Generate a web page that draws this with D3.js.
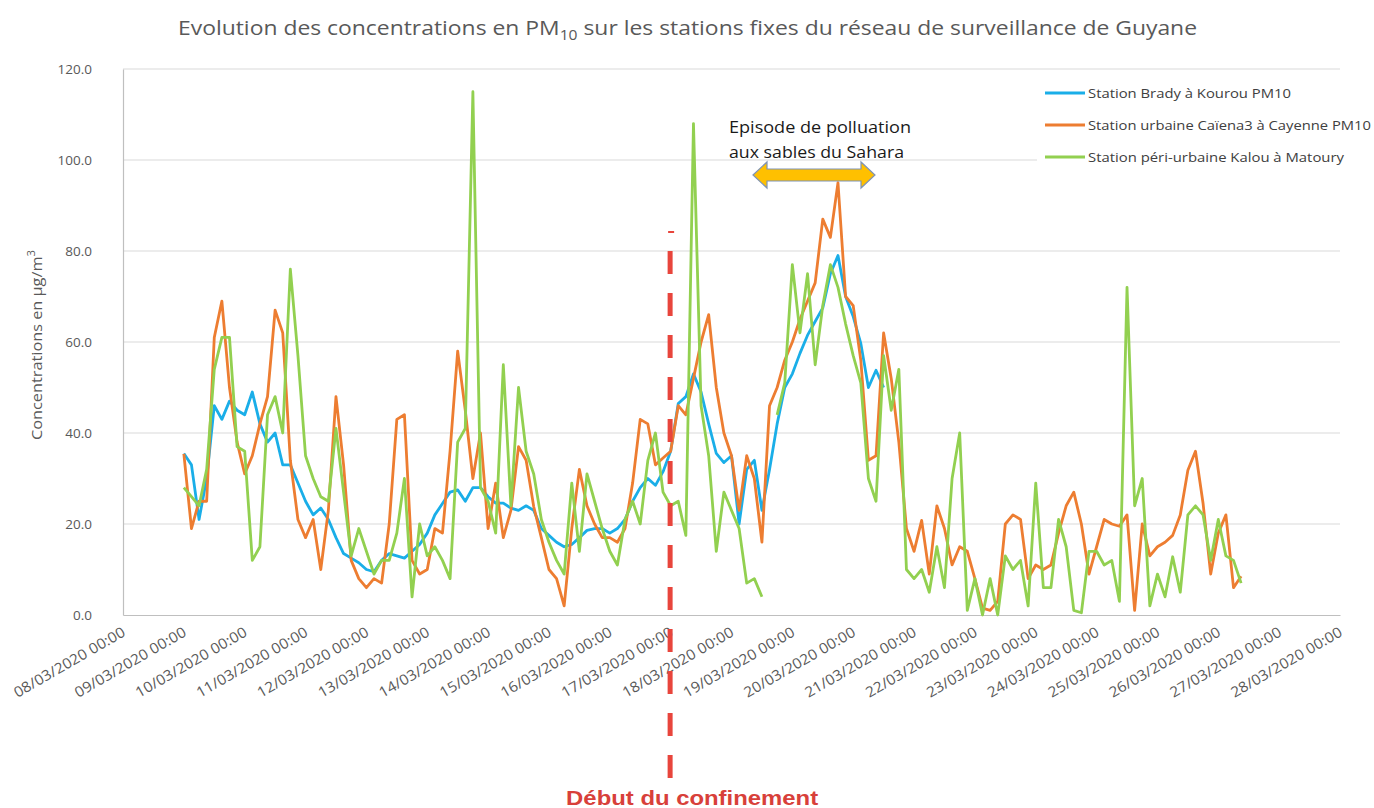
<!DOCTYPE html>
<html><head><meta charset="utf-8">
<script src="https://cdn.jsdelivr.net/npm/d3@7"></script>
<style>body{margin:0;background:#fff}svg{display:block}</style>
</head><body>
<svg id="c" width="1374" height="808"></svg>
<script>
// ---------- DATA ----------
const startTime = "2020-03-09T00:00:00Z";
const stepHours = 3;
const xTickDates = ["2020-03-08","2020-03-09","2020-03-10","2020-03-11","2020-03-12","2020-03-13","2020-03-14",
  "2020-03-15","2020-03-16","2020-03-17","2020-03-18","2020-03-19","2020-03-20","2020-03-21","2020-03-22",
  "2020-03-23","2020-03-24","2020-03-25","2020-03-26","2020-03-27","2020-03-28"];
const yTicks = [0,20,40,60,80,100,120];
const seriesNames = ["Station Brady à Kourou PM10","Station urbaine Caïena3 à Cayenne PM10","Station péri-urbaine Kalou à Matoury"];
const bradyKourou = [35.5,33,21,30,46,43,47,45,44,49,
  42,38,40,33,33,29,25,22,23.5,21,
  17,13.5,12.5,11.5,10,9.5,12,13.5,13,12.5,
  14,15.5,18,22,24.5,27,27.5,25,28,28,
  26,24.6,24.6,23.5,23,24,23,19,17.5,16,
  15,15.5,17,18.6,19,19,18,19,21,25,
  28,30,28.5,31.5,36,46.5,48,53,49,42,
  35.5,33.5,35,20,32,34,23,32,42,50,
  53,57.5,61.5,64.5,67.5,75,79,70,65.6,59.7,
  50,53.8,50];
const caiena3Cayenne = [35.4,19,25,25,61,69,50,38,31,35,
  42,48,67,62,34,21,17,21,10,23,
  48,33,12,8,6,8,7,20,43,44,
  12,9,10,19,18,36,58,45,30,40,
  19,29,17,23,37,34,23.8,17,10,8,
  2,19,32,24,20,17,17,16,19,29,
  43,42,33,34.5,36,46,44,52,60,66,
  50,40,35,23,35,30,16,46,50,56,
  60,65,69,73,87,83,95,70,68,56,
  34,35,62,52,38,19,14,20.8,9,24,
  19,11,15,14,8,1.5,1,3,20,22,
  21,8,11,10,11,18,24,27,20,9,
  15,21,20,19.5,22,1,20,13,15,16,
  17.5,22,31.8,36,24.5,9,18,22,6,8.5];
const kalouMatoury = [28,26,24,32,54,61,61,37,36,12,
  15,44,48,40,76,57,35,30,26,25,
  41,27,13,19,14,9,12,12,18,30,
  4,20,13,15,12,8,38,41,115,28,
  25,18,55,24,50,36,31,21,16,12,
  9,29,14,31,25,19,14,11,21,25,
  20,34,40,27,24,25,17.5,108,46,35,
  14,27,23,19,7,8,4,null,44,51,
  77,62,75,55,68,77,72,64,57,51,
  30,25,57,45,54,10,8,10,5,15,
  6,30,40,1,8,0,8,0,13,10,
  12,2,29,6,6,21,15,1,0.5,14,
  14,11,12,3,72,24,30,2,9,4,
  12.8,5,22,24,22,12,21,13,12,7];
const seriesColors = ["#1AAEE8","#ED7D31","#92D050"];
const confinementDate = "2020-03-16T23:00:00Z";

// ---------- CHART ----------
const svg = d3.select("#c");
const M = {left:123, right:1340, top:69, bottom:615};
const x = d3.scaleUtc().domain([new Date(xTickDates[0]), new Date(xTickDates[xTickDates.length-1])]).range([M.left, M.right]);
const y = d3.scaleLinear().domain([0,120]).range([M.bottom, M.top]);
const font = "'Open Sans', 'Noto Sans', sans-serif";
const t0 = new Date(startTime).getTime();
const toPts = arr => arr.map((v,i)=>({t:new Date(t0 + i*stepHours*3600000), v}));

function fit(sel, w){ sel.attr("textLength", w).attr("lengthAdjust","spacingAndGlyphs"); }

// gridlines
svg.append("g").selectAll("line").data(yTicks.filter(d=>d>0)).join("line")
  .attr("x1",M.left).attr("x2",M.right).attr("y1",d=>y(d)).attr("y2",d=>y(d))
  .attr("stroke","#d9d9d9").attr("stroke-width",1.2);

// axes
const yAxis = svg.append("g").attr("transform",`translate(${M.left},0)`)
  .call(d3.axisLeft(y).tickValues(yTicks).tickFormat(d3.format(".1f")).tickSize(0).tickPadding(31));
yAxis.select(".domain").attr("stroke","#bfbfbf").attr("stroke-width",1.2);
yAxis.selectAll("text").attr("font-family",font).attr("font-size",13.5).attr("fill","#595959");

const xAxis = svg.append("g").attr("transform",`translate(0,${M.bottom})`)
  .call(d3.axisBottom(x).tickValues(xTickDates.map(d=>new Date(d))).tickFormat(d3.utcFormat("%d/%m/%Y %H:%M")).tickSize(0));
xAxis.select(".domain").attr("stroke","#bfbfbf").attr("stroke-width",1.2);
xAxis.selectAll("text").attr("font-family",font).attr("font-size",14.5).attr("fill","#595959")
  .attr("text-anchor","end").attr("dy",0).attr("y",0)
  .attr("transform","translate(3,20) rotate(-30)")
  .each(function(){ fit(d3.select(this), 126); });

// lines
const line = d3.line().defined(d=>d.v!==null).x(d=>x(d.t)).y(d=>y(d.v));
[bradyKourou, caiena3Cayenne, kalouMatoury].forEach((arr,k)=>{
  svg.append("path").datum(toPts(arr)).attr("d",line).attr("fill","none")
    .attr("stroke",seriesColors[k]).attr("stroke-width",2.8).attr("stroke-linejoin","round");
});

// legend
svg.append("rect").attr("x",1037).attr("y",76).attr("width",305).attr("height",94).attr("fill","#fff");
const legY = [93,125,157];
seriesNames.forEach((n,k)=>{
  svg.append("line").attr("x1",1045).attr("x2",1085).attr("y1",legY[k]).attr("y2",legY[k])
    .attr("stroke",seriesColors[k]).attr("stroke-width",2.8);
  const tx = svg.append("text").attr("x",1088).attr("y",legY[k]+5).attr("font-family",font)
    .attr("font-size",13.5).attr("fill","#404040").text(n);
  fit(tx,[203,283,256][k]);
});

// title
const title = svg.append("text").attr("x",178).attr("y",35).attr("font-family",font).attr("font-size",20.5).attr("fill","#595959");
title.append("tspan").text("Evolution des concentrations en PM");
title.append("tspan").attr("font-size",14).attr("dy",5).text("10");
title.append("tspan").attr("dy",-5).text(" sur les stations fixes du réseau de surveillance de Guyane");
fit(title,1019);

// y axis title
const yt = svg.append("text").attr("transform","translate(42,345) rotate(-90)").attr("text-anchor","middle")
  .attr("font-family",font).attr("font-size",15).attr("fill","#595959");
yt.append("tspan").text("Concentrations en µg/m");
yt.append("tspan").attr("font-size",10.5).attr("dy",-7).text("3");
fit(yt,190);

// confinement line
const cx = x(new Date(confinementDate));
svg.append("line").attr("x1",cx).attr("x2",cx+6).attr("y1",232).attr("y2",232).attr("stroke","#E8453C").attr("stroke-width",2);
svg.append("line").attr("x1",cx+2).attr("x2",cx+2).attr("y1",251).attr("y2",778)
  .attr("stroke","#E8453C").attr("stroke-width",5).attr("stroke-dasharray","23,19");
const cl = svg.append("text").attr("x",cx+24).attr("y",805).attr("text-anchor","middle")
  .attr("font-family","'Liberation Sans', Arial, sans-serif").attr("font-weight","bold").attr("font-size",20)
  .attr("fill","#D8403A").text("Début du confinement");
fit(cl,252);

// Sahara annotation
const a1 = svg.append("text").attr("x",729).attr("y",133).attr("font-family",font).attr("font-size",16.5).attr("fill","#1a1a1a").text("Episode de polluation");
fit(a1,182);
const a2 = svg.append("text").attr("x",729).attr("y",158).attr("font-family",font).attr("font-size",16.5).attr("fill","#1a1a1a").text("aux sables du Sahara");
fit(a2,175);
const ax0=753, ax1=875, ay=175;
svg.append("path").attr("d",`M${ax0},${ay} L${ax0+14},${ay-13} L${ax0+14},${ay-6} L${ax1-14},${ay-6} L${ax1-14},${ay-13} L${ax1},${ay} L${ax1-14},${ay+13} L${ax1-14},${ay+6} L${ax0+14},${ay+6} L${ax0+14},${ay+13} Z`)
  .attr("fill","#FFC000").attr("stroke","#7F93B5").attr("stroke-width",1.2);
</script>
</body></html>
